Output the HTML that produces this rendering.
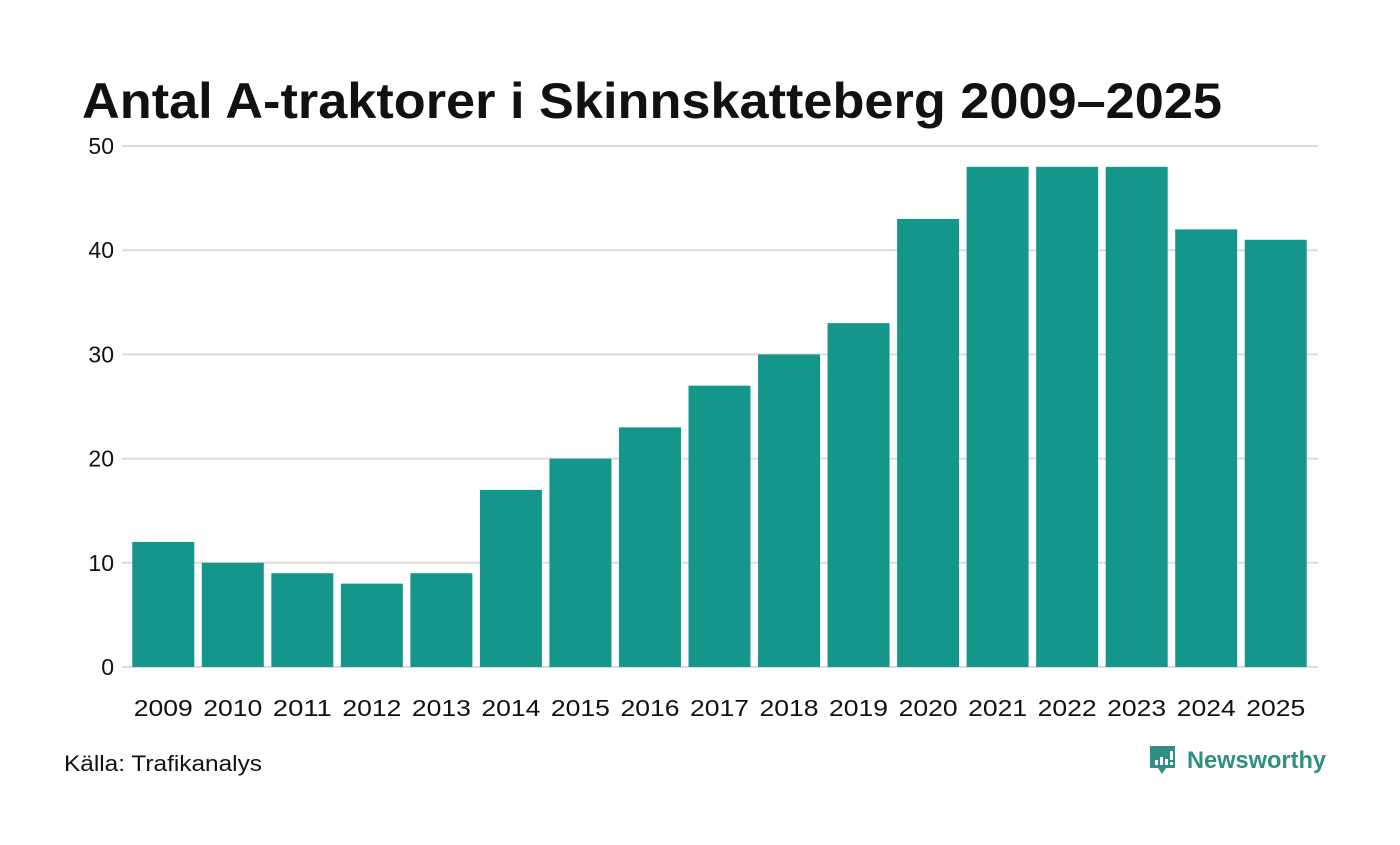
<!DOCTYPE html>
<html><head><meta charset="utf-8"><style>
body{margin:0;background:#fff;width:1400px;height:840px;overflow:hidden;font-family:"Liberation Sans",sans-serif}
</style></head><body>
<svg width="1400" height="840" xmlns="http://www.w3.org/2000/svg">
<text x="82" y="118" font-size="50" font-weight="bold" fill="#111" textLength="1140" lengthAdjust="spacingAndGlyphs">Antal A-traktorer i Skinnskatteberg 2009–2025</text>
<g id="grid"></g>
<g id="bars"></g>
<g id="xlabels"></g>
<text x="64" y="771" font-size="22" fill="#111" textLength="198" lengthAdjust="spacingAndGlyphs">Källa: Trafikanalys</text>
<g>
<path d="M1150 746 h25 v22 h-9 l-4 6 l-4 -6 h-8 z" fill="#2f8f83"/>
<rect x="1155" y="760" width="3" height="5" fill="#fff"/><rect x="1160" y="757" width="3" height="8" fill="#fff"/><rect x="1165" y="759" width="3" height="6" fill="#fff"/><rect x="1170" y="751" width="3" height="9" fill="#fff"/><rect x="1170" y="762" width="3" height="3" fill="#fff"/>
<text x="1187" y="768" font-size="24" font-weight="bold" fill="#2f8f83" textLength="139" lengthAdjust="spacingAndGlyphs">Newsworthy</text>
</g>
</svg>
<script>
const years=["2009","2010","2011","2012","2013","2014","2015","2016","2017","2018","2019","2020","2021","2022","2023","2024","2025"];
const values=[12,10,9,8,9,17,20,23,27,30,33,43,48,48,48,42,41];
const ticks=[0,10,20,30,40,50];
const NS="http://www.w3.org/2000/svg";
const y=v=>667-v*(667-146)/50;
const x0=128.5,x1=1310.5,step=(x1-x0)/years.length,bw=62;
const xc=i=>x0+step*(i+0.5);
const g=document.getElementById('grid');
ticks.forEach(t=>{
 const l=document.createElementNS(NS,'line');
 l.setAttribute('x1',122);l.setAttribute('x2',1318);l.setAttribute('y1',y(t));l.setAttribute('y2',y(t));
 l.setAttribute('stroke','#dddddd');l.setAttribute('stroke-width','2');
 
 
 g.appendChild(l);
 const tx=document.createElementNS(NS,'text');
 tx.setAttribute('x',114);tx.setAttribute('y',y(t)+8);tx.setAttribute('text-anchor','end');
 tx.setAttribute('font-size','23');tx.setAttribute('fill','#111');tx.textContent=t;
 
 
 g.appendChild(tx);
});
const b=document.getElementById('bars'),xl=document.getElementById('xlabels');
values.forEach((v,i)=>{
 const r=document.createElementNS(NS,'rect');
 r.setAttribute('x',xc(i)-bw/2);r.setAttribute('width',bw);
 r.setAttribute('y',y(v));r.setAttribute('height',y(0)-y(v));r.setAttribute('fill','#14978a');
 
 
 b.appendChild(r);
 const t=document.createElementNS(NS,'text');
 t.setAttribute('x',xc(i));t.setAttribute('y',716);t.setAttribute('text-anchor','middle');
 t.setAttribute('font-size','23');t.setAttribute('fill','#111');t.textContent=years[i];
 t.setAttribute('textLength','59');t.setAttribute('lengthAdjust','spacingAndGlyphs');
 
 
 xl.appendChild(t);
});
</script>
</body></html>
